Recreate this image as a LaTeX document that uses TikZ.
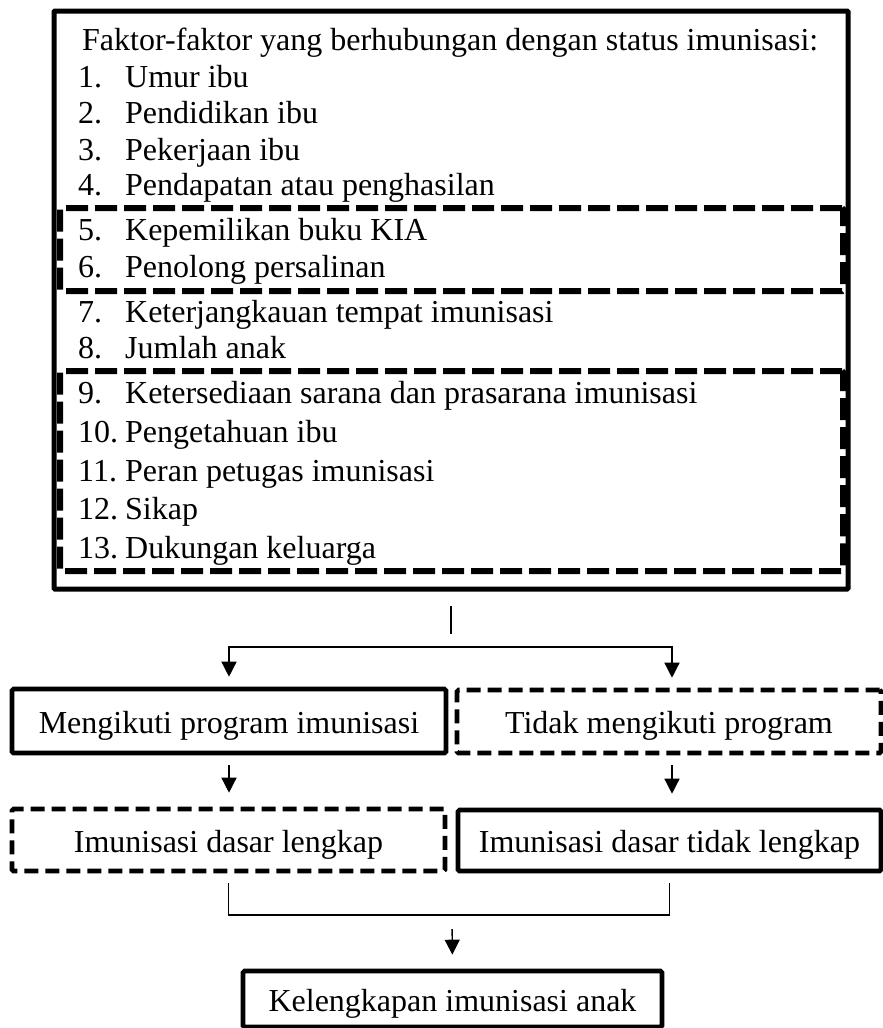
\documentclass[tikz,border=0pt]{standalone}
\usepackage{fontspec}
\setmainfont{Liberation Serif}
\usetikzlibrary{arrows.meta,positioning,calc}
\tikzset{
  factorbox/.style={rectangle, draw=black, line width=5pt, fill=white,
                    rounded corners=1pt, inner sep=0pt},
  groupbox/.style={rectangle, draw=black, line width=6pt,
                   dash pattern=on 22pt off 7pt, rounded corners=1pt, inner sep=0pt},
  itemtxt/.style={anchor=base west, inner sep=0pt, font=\fontsize{32}{38}\selectfont},
  flowbox/.style={rectangle, draw=black, line width=4.6pt, fill=white,
                  rounded corners=1.5pt, inner sep=0pt,
                  font=\fontsize{32}{38}\selectfont, text height=26pt, text depth=2pt},
  flowboxdash/.style={flowbox, dash pattern=on 14pt off 7pt},
  conn/.style={line width=1.4pt},
  arr/.style={-{Triangle[length=15pt,width=15pt]}, line width=1.4pt},
}
\newcommand{\numitem}[2]{\makebox[47pt][l]{#1.}#2}

\begin{document}
\begin{tikzpicture}[x=1pt,y=-1pt]
  \useasboundingbox (0,0) rectangle (883,1028);
  % factor list
  \node[factorbox, minimum width=794pt, minimum height=578pt] (f) at (451,300) {};
  \node[groupbox, minimum width=783pt, minimum height=83pt] (g1) at (451.5,249.5) {};
  \node[groupbox, minimum width=783pt, minimum height=200pt] (g2) at (451.5,471) {};
  \node[itemtxt] (head) at (82,50) {Faktor-faktor yang berhubungan dengan status imunisasi:};
  \foreach \n/\t/\y in {1/Umur ibu/87, 2/Pendidikan ibu/123, 3/Pekerjaan ibu/160,
      4/Pendapatan atau penghasilan/195, 5/Kepemilikan buku KIA/240,
      6/Penolong persalinan/277, 7/Keterjangkauan tempat imunisasi/322,
      8/Jumlah anak/358, 9/Ketersediaan sarana dan prasarana imunisasi/403,
      10/Pengetahuan ibu/442, 11/Peran petugas imunisasi/481, 12/Sikap/519,
      13/Dukungan keluarga/558}
    \node[itemtxt] (i\n) at (78,\y) {\numitem{\n}{\t}};
  % flow
  \node[flowbox, minimum width=434pt, minimum height=64pt] (ikut) at (229,721) {Mengikuti program imunisasi};
  \node[flowboxdash, minimum width=424pt, minimum height=63pt] (tidak) at (669,721.5) {Tidak mengikuti program};
  \node[flowboxdash, minimum width=433pt, minimum height=62pt] (lengkap) at (228.5,840) {Imunisasi dasar lengkap};
  \node[flowbox, minimum width=423pt, minimum height=61pt] (tlengkap) at (669.5,840.5) {Imunisasi dasar tidak lengkap};
  \node[flowbox, minimum width=419pt, minimum height=56pt] (anak) at (452.5,999) {Kelengkapan imunisasi anak};
  \coordinate (split) at (451,647);
  \coordinate (join) at (452,915);
  \draw[conn] (f.south) ++(0,14) -- ++(0,28);
  \draw[arr, shorten >=10pt] (split) -| (ikut.north);
  \draw[arr, shorten >=10pt] (split) -| ([xshift=3pt]tidak.north);
  \draw[arr, shorten <=10pt, shorten >=14pt] (ikut.south) -- (ikut.south |- lengkap.north);
  \draw[arr, shorten <=10pt, shorten >=14pt] ([xshift=3pt]tidak.south) -- ([xshift=3pt]tidak.south |- tlengkap.north);
  \draw[conn] ([yshift=-10pt]lengkap.south) |- (join) -| ([yshift=-10pt]tlengkap.south);
  \draw[arr, shorten <=14pt, shorten >=14pt] (join) -- (anak.north);
\end{tikzpicture}
\end{document}
